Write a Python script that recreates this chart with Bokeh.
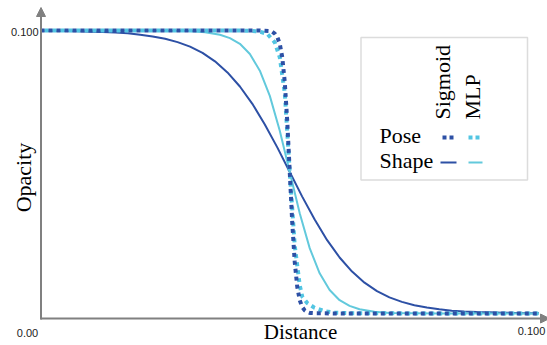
import math
from bokeh.plotting import figure
from bokeh.models import Range1d, Label, Arrow, NormalHead, BoxAnnotation
from bokeh.embed import file_html
from bokeh.resources import INLINE

# ---------------- data ----------------
shape_sig_x = [0, 0.0025, 0.005, 0.0075, 0.01, 0.0125, 0.015, 0.0175, 0.02, 0.0225,
               0.025, 0.0275, 0.03, 0.0325, 0.035, 0.0375, 0.04, 0.0425, 0.045, 0.0475,
               0.05, 0.0525, 0.055, 0.0575, 0.06, 0.0625, 0.065, 0.0675, 0.07, 0.0725,
               0.075, 0.0775, 0.08, 0.0825, 0.085, 0.0875, 0.09, 0.0925, 0.095, 0.0975, 0.1]
shape_sig_y = [0.0999, 0.0999, 0.0998, 0.0997, 0.0996, 0.0995, 0.0993, 0.0990, 0.0985, 0.0979,
               0.0971, 0.0959, 0.0943, 0.0921, 0.0891, 0.0852, 0.0802, 0.0741, 0.0668, 0.0587,
               0.0500, 0.0413, 0.0332, 0.0259, 0.0198, 0.0148, 0.0109, 0.0079, 0.0057, 0.0041,
               0.0029, 0.0021, 0.0015, 0.0010, 0.0007, 0.0005, 0.0004, 0.0003, 0.0002, 0.0001, 0.0001]

shape_mlp_x = [0, 0.01, 0.02, 0.025, 0.03, 0.033, 0.036, 0.038, 0.04, 0.042, 0.044, 0.046,
               0.048, 0.05, 0.052, 0.054, 0.056, 0.058, 0.06, 0.062, 0.064, 0.067, 0.07,
               0.075, 0.08, 0.09, 0.1]
shape_mlp_y = [0.1, 0.1, 0.1, 0.0999, 0.0998, 0.0994, 0.0985, 0.0973, 0.0953, 0.0917, 0.0858, 0.0769,
               0.0646, 0.05, 0.0354, 0.0231, 0.0142, 0.0083, 0.0047, 0.0027, 0.0015, 0.0006, 0.0002,
               0.0001, 0, 0, 0]

pose_sig_x = [0, 0.02, 0.04, 0.044, 0.046, 0.0465, 0.047, 0.0475, 0.048, 0.0485, 0.049, 0.0495,
              0.05, 0.0505, 0.051, 0.0515, 0.052, 0.0525, 0.053, 0.0535, 0.054, 0.055, 0.06,
              0.08, 0.1]
pose_sig_y = [0.1, 0.1, 0.1, 0.1, 0.0998, 0.0995, 0.0989, 0.0977, 0.0953, 0.0905, 0.0818, 0.0679,
              0.05, 0.0321, 0.0182, 0.0095, 0.0047, 0.0023, 0.0011, 0.0005, 0.0002, 0.0001, 0,
              0, 0]

pose_mlp_x = [0, 0.02, 0.04, 0.042, 0.044, 0.0455, 0.047, 0.048, 0.049, 0.05, 0.051, 0.052,
              0.0525, 0.0535, 0.055, 0.057, 0.059, 0.062, 0.08, 0.1]
pose_mlp_y = [0.1, 0.1, 0.1, 0.0999, 0.0996, 0.0988, 0.0958, 0.0905, 0.078, 0.05, 0.024, 0.010,
              0.006, 0.0037, 0.002, 0.0008, 0.0003, 0.0001, 0, 0]

x_tick_labels = ["0.00", "0.100"]
y_tick_labels = ["0.100"]
row_labels = ["Pose", "Shape"]
col_labels = ["Sigmoid", "MLP"]

# ---------------- styling ----------------
DARK = "#2d50a5"
LIGHT = "#62c9dc"
LIGHT_DOT = "#52c5e2"
GRAY = "#808080"
SERIF = "Liberation Serif"
SANS = "Liberation Sans"

W, H = 547, 345
# pixel anchors: x=0 at px 40, x=0.1 at px 538.5 ; y=0.1 at py 30, y=0 at py 313
sx = 0.1 / 498.5
sy = 0.1 / 283.0
x_start = -40 * sx
x_end = x_start + W * sx
y_end = 0.1 + 30 * sy
y_start = y_end - H * sy


def dx(px):
    return x_start + px * sx


def dy(py):
    return y_end - py * sy


p = figure(width=W, height=H, output_backend="svg", toolbar_location=None,
           x_range=Range1d(x_start, x_end), y_range=Range1d(y_start, y_end),
           x_axis_location=None, y_axis_location=None, min_border=0,
           outline_line_color=None, background_fill_color="white",
           border_fill_color="white")
p.xgrid.visible = False
p.ygrid.visible = False

# curves
p.line(shape_sig_x, shape_sig_y, line_color=DARK, line_width=2)
p.line(shape_mlp_x, shape_mlp_y, line_color=LIGHT, line_width=2)
p.line(pose_mlp_x, pose_mlp_y, line_color=LIGHT_DOT, line_width=4,
       line_dash="4 4", line_dash_offset=4)
p.line(pose_sig_x, pose_sig_y, line_color=DARK, line_width=4, line_dash="4 4")

# axes with arrows
p.add_layout(Arrow(x_start=dx(40.5), y_start=dy(319), x_end=dx(40.5), y_end=dy(7),
                   line_color=GRAY, line_width=2,
                   end=NormalHead(size=9, fill_color=GRAY, line_color=GRAY)))
p.add_layout(Arrow(x_start=dx(40), y_start=dy(318), x_end=dx(549), y_end=dy(318),
                   line_color=GRAY, line_width=2,
                   end=NormalHead(size=9, fill_color=GRAY, line_color=GRAY)))

# tick labels
p.add_layout(Label(x=dx(38), y=dy(31), text=y_tick_labels[0], text_align="right",
                   text_baseline="middle", text_font=SANS, text_font_size="11px",
                   text_color="#222222"))
p.add_layout(Label(x=dx(27), y=dy(332), text=x_tick_labels[0], text_align="center",
                   text_baseline="middle", text_font=SANS, text_font_size="11px",
                   text_color="#222222"))
p.add_layout(Label(x=dx(531), y=dy(330), text=x_tick_labels[1], text_align="center",
                   text_baseline="middle", text_font=SANS, text_font_size="11px",
                   text_color="#222222"))

# axis titles
p.add_layout(Label(x=dx(300), y=dy(331), text="Distance", text_align="center",
                   text_baseline="middle", text_font=SERIF, text_font_size="21px",
                   text_color="black"))
p.add_layout(Label(x=dx(23), y=dy(177), text="Opacity", text_align="center",
                   text_baseline="middle", text_font=SERIF, text_font_size="22px",
                   text_color="black", angle=math.pi / 2))

# legend box
p.add_layout(BoxAnnotation(left=dx(360.5), right=dx(527), top=dy(37), bottom=dy(179.5),
                           fill_alpha=0, line_color="#8a8a8a", line_width=1.5))
p.add_layout(Label(x=dx(442), y=dy(119), text=col_labels[0], text_align="left",
                   text_baseline="alphabetic", text_font=SERIF, text_font_size="22px",
                   text_color="black", angle=math.pi / 2))
p.add_layout(Label(x=dx(472), y=dy(119), text=col_labels[1], text_align="left",
                   text_baseline="alphabetic", text_font=SERIF, text_font_size="22px",
                   text_color="black", angle=math.pi / 2))
p.add_layout(Label(x=dx(379), y=dy(135), text=row_labels[0], text_align="left",
                   text_baseline="middle", text_font=SERIF, text_font_size="22px",
                   text_color="black"))
p.add_layout(Label(x=dx(379), y=dy(160), text=row_labels[1], text_align="left",
                   text_baseline="middle", text_font=SERIF, text_font_size="22px",
                   text_color="black"))

# legend swatches
p.line([dx(442), dx(455)], [dy(137), dy(137)], line_color=DARK, line_width=4, line_dash="4 3")
p.line([dx(468), dx(481)], [dy(137), dy(137)], line_color=LIGHT_DOT, line_width=4, line_dash="4 3")
p.line([dx(440), dx(456)], [dy(162), dy(162)], line_color=DARK, line_width=2)
p.line([dx(468), dx(482)], [dy(162), dy(162)], line_color=LIGHT, line_width=2)

open("out.html", "w").write(file_html(p, INLINE))
